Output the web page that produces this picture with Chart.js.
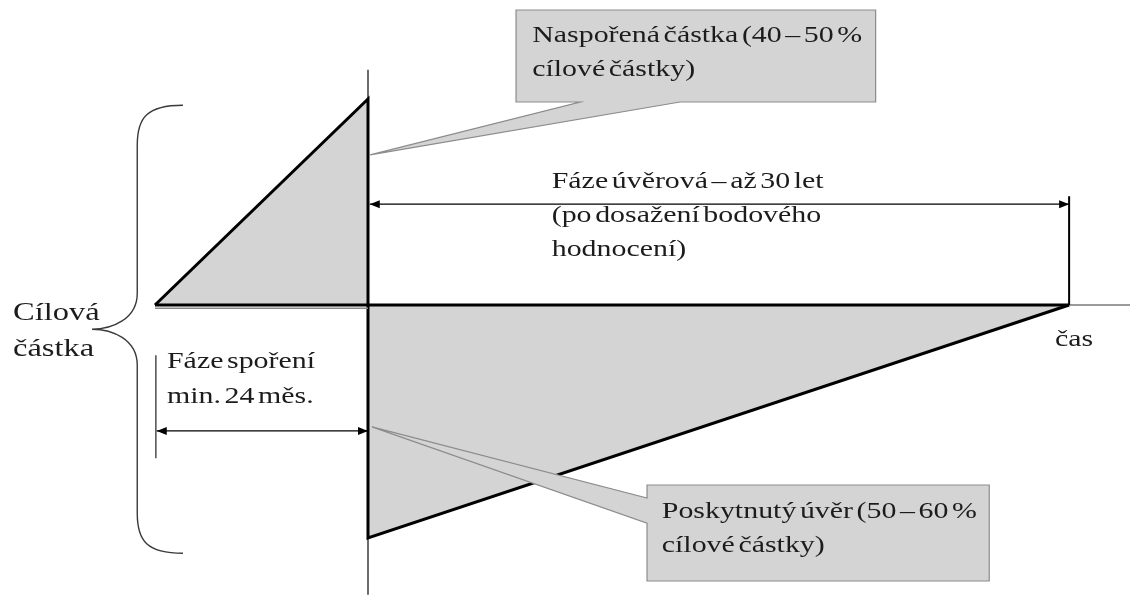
<!DOCTYPE html>
<html>
<head>
<meta charset="utf-8">
<script src="https://cdn.jsdelivr.net/npm/chart.js@4/dist/chart.umd.min.js"></script>
<style>
  html, body { margin: 0; padding: 0; background: #ffffff; }
  canvas { display: block; }
</style>
</head>
<body>
<canvas id="c" width="1130" height="595"></canvas>
<script>
// ---- Data (x: relative time, y: % of target amount "cílová částka") ----
const savingsX = [0, 24, 24];          // savings phase (min. 24 months)
const savingsY = [0, 46, 0];           // saved amount ~40–50 %
const loanX = [24, 24, 103];           // loan phase
const loanY = [0, -52, 0];             // loan ~50–60 %
const timeAxisX = [0, 103];
const timeAxisTailX = [103, 109.9];
const savingsUnderlineX = [0, 24];
const loanPhaseArrowX = [24.2, 103];
const loanPhaseArrowY = 22.5;
const loanPhaseMarkY = [24.3, 0];
const savingsPhaseArrowX = [0.2, 24];
const savingsPhaseArrowY = -28.1;
const savingsPhaseMarkY = [-11.2, -34.2];
const dividerY = [52.5, -64.7];

// ---- Texts ----
const targetLabel = ['Cílová', 'částka'];
const savingsPhaseLabel = ['Fáze spoření', 'min. 24 měs.'];
const loanPhaseLabel = ['Fáze úvěrová – až 30 let', '(po dosažení bodového', 'hodnocení)'];
const timeLabel = 'čas';
const savedCallout = ['Naspořená částka (40 – 50 %', 'cílové částky)'];
const loanCallout = ['Poskytnutý úvěr (50 – 60 %', 'cílové částky)'];

const pts = (xs, ys) => xs.map((x, i) => ({ x: x, y: Array.isArray(ys) ? ys[i] : ys }));

const FILL = '#d4d4d4';
const FONT = '"Liberation Serif", "Times New Roman", serif';

// ---- Decoration layout (in data units) ----
const layout = {
  brace: { xArm: 3.15, xSpine: -2.0, xTip: -7.1, top: 44.6, tip: -5.4, bottom: -55.4, r: 7.5 },
  callout1: { x0: 40.68, x1: 81.2, y0: 65.85, y1: 45.31, b0: 47.9, b1: 59.15, tipX: 24.23, tipY: 33.5,
              tx: 42.5, ty: [58.7, 51.1] },
  callout2: { x0: 55.44, x1: 94.0, y0: -40.18, y1: -61.6, b0: -43.1, b1: -48.7, tipX: 24.45, tipY: -27.2,
              tx: 57.1, ty: [-47.5, -55.1] },
  targetText: { x: -16.0, ty: [-3.35, -11.4], size: 25 },
  savingsText: { x: 1.35, ty: [-14.1, -21.8] },
  loanText: { x: 44.7, ty: [26.1, 18.6, 11.0] },
  timeText: { x: 101.4, y: -9.15 }
};

function textLine(ctx, str, px, py, size) {
  ctx.save();
  ctx.translate(px, py);
  ctx.scale(1.3, 1);
  ctx.font = size + 'px ' + FONT;
  try { ctx.wordSpacing = '-3px'; } catch (e) {}
  ctx.fillStyle = '#1c1c1c';
  ctx.textBaseline = 'alphabetic';
  ctx.fillText(str, 0, 0);
  ctx.restore();
}

function arrowHead(ctx, x, y, dir) {
  const L = 10, W = 4;
  ctx.beginPath();
  ctx.moveTo(x, y);
  ctx.lineTo(x - dir * L, y - W);
  ctx.lineTo(x - dir * L, y + W);
  ctx.closePath();
  ctx.fillStyle = '#000';
  ctx.fill();
}

const diagramPlugin = {
  id: 'diagram',
  afterDatasetsDraw(chart) {
    const ctx = chart.ctx;
    const X = v => chart.scales.x.getPixelForValue(v);
    const Y = v => chart.scales.y.getPixelForValue(v);

    // arrowheads
    arrowHead(ctx, X(loanPhaseArrowX[0]), Y(loanPhaseArrowY), -1);
    arrowHead(ctx, X(loanPhaseArrowX[1]), Y(loanPhaseArrowY), 1);
    arrowHead(ctx, X(savingsPhaseArrowX[0]), Y(savingsPhaseArrowY), -1);
    arrowHead(ctx, X(savingsPhaseArrowX[1]), Y(savingsPhaseArrowY), 1);

    // brace
    const b = layout.brace;
    const ax = X(b.xArm), sx = X(b.xSpine), tx = X(b.xTip);
    const yt = Y(b.top), ym = Y(b.tip), yb = Y(b.bottom);
    ctx.save();
    ctx.strokeStyle = '#3a3a3a';
    ctx.lineWidth = 1.4;
    ctx.beginPath();
    ctx.moveTo(ax, yt);
    ctx.bezierCurveTo(sx + 10, yt, sx, yt + 12, sx, yt + 40);
    ctx.lineTo(sx, ym - 36);
    ctx.bezierCurveTo(sx, ym - 10, tx + 20, ym, tx, ym);
    ctx.bezierCurveTo(tx + 20, ym, sx, ym + 10, sx, ym + 36);
    ctx.lineTo(sx, yb - 40);
    ctx.bezierCurveTo(sx, yb - 12, sx + 10, yb, ax, yb);
    ctx.stroke();
    ctx.restore();

    // callouts
    function callout(c, side) {
      const x0 = X(c.x0), x1 = X(c.x1), y0 = Y(c.y0), y1 = Y(c.y1);
      ctx.save();
      ctx.beginPath();
      if (side === 'bottom') {
        ctx.moveTo(x0, y0);
        ctx.lineTo(x1, y0);
        ctx.lineTo(x1, y1);
        ctx.lineTo(X(c.b1), y1);
        ctx.lineTo(X(c.tipX), Y(c.tipY));
        ctx.lineTo(X(c.b0), y1);
        ctx.lineTo(x0, y1);
      } else {
        ctx.moveTo(x0, y0);
        ctx.lineTo(x1, y0);
        ctx.lineTo(x1, y1);
        ctx.lineTo(x0, y1);
        ctx.lineTo(x0, Y(c.b1));
        ctx.lineTo(X(c.tipX), Y(c.tipY));
        ctx.lineTo(x0, Y(c.b0));
      }
      ctx.closePath();
      ctx.fillStyle = FILL;
      ctx.fill();
      ctx.strokeStyle = '#8c8c8c';
      ctx.lineWidth = 1.2;
      ctx.stroke();
      ctx.restore();
    }
    callout(layout.callout1, 'bottom');
    callout(layout.callout2, 'left');

    // texts
    const c1 = layout.callout1, c2 = layout.callout2;
    savedCallout.forEach((s, i) => textLine(ctx, s, X(c1.tx), Y(c1.ty[i]), 23));
    loanCallout.forEach((s, i) => textLine(ctx, s, X(c2.tx), Y(c2.ty[i]), 23));
    targetLabel.forEach((s, i) => textLine(ctx, s, X(layout.targetText.x), Y(layout.targetText.ty[i]), layout.targetText.size));
    savingsPhaseLabel.forEach((s, i) => textLine(ctx, s, X(layout.savingsText.x), Y(layout.savingsText.ty[i]), 23));
    loanPhaseLabel.forEach((s, i) => textLine(ctx, s, X(layout.loanText.x), Y(layout.loanText.ty[i]), 23));
    textLine(ctx, timeLabel, X(layout.timeText.x), Y(layout.timeText.y), 23);
  }
};

const line = (data, color, width, order) => ({
  data, showLine: true, fill: false, borderColor: color, borderWidth: width,
  pointRadius: 0, order, borderCapStyle: 'butt', tension: 0
});

new Chart(document.getElementById('c').getContext('2d'), {
  type: 'scatter',
  data: {
    datasets: [
      line(pts([24, 24], dividerY), '#3c3c3c', 1.5, 9),
      { data: pts(savingsX, savingsY), showLine: true, fill: 'origin', backgroundColor: FILL,
        borderColor: '#000', borderWidth: 3, pointRadius: 0, order: 5, borderJoinStyle: 'miter', tension: 0 },
      { data: pts(loanX, loanY), showLine: true, fill: 'origin', backgroundColor: FILL,
        borderColor: '#000', borderWidth: 3, pointRadius: 0, order: 5, borderJoinStyle: 'miter', tension: 0 },
      line(pts(timeAxisX, [0, 0]), '#000', 3, 2),
      line(pts(timeAxisTailX, [0, 0]), '#7a7a7a', 1.5, 3),
      line(pts(savingsUnderlineX, [-0.75, -0.75]), '#8a8a8a', 1.5, 3),
      line(pts(loanPhaseArrowX, [loanPhaseArrowY, loanPhaseArrowY]), '#000', 1.2, 1),
      line(pts([103, 103], loanPhaseMarkY), '#000', 2, 1),
      line(pts(savingsPhaseArrowX, [savingsPhaseArrowY, savingsPhaseArrowY]), '#000', 1.2, 1),
      line(pts([0.1, 0.1], savingsPhaseMarkY), '#222', 1.2, 1)
    ]
  },
  options: {
    responsive: false,
    animation: false,
    devicePixelRatio: 1,
    layout: { padding: 0 },
    plugins: { legend: { display: false }, tooltip: { enabled: false } },
    scales: {
      x: { type: 'linear', min: -17.465, max: 109.86, display: false },
      y: { type: 'linear', min: -64.73, max: 68.08, display: false }
    }
  },
  plugins: [diagramPlugin]
});
</script>
</body>
</html>
